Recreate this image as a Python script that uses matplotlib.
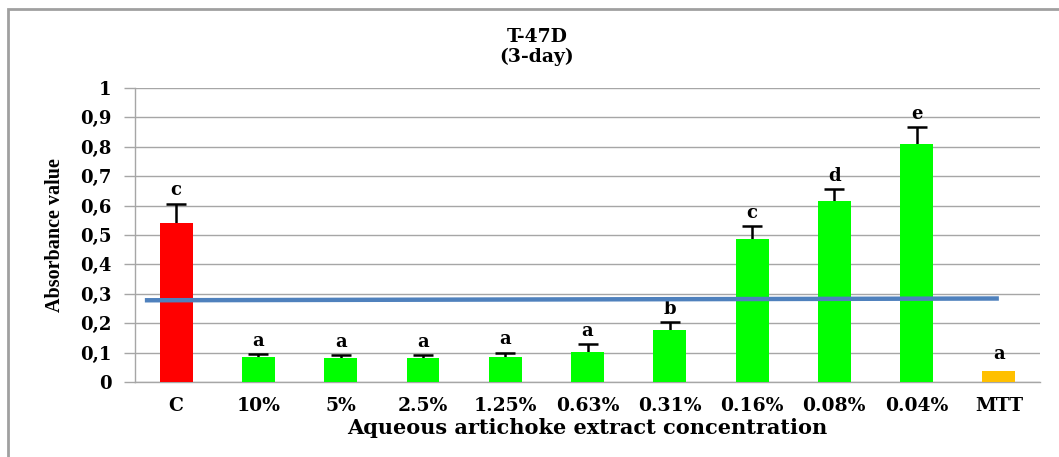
import matplotlib

matplotlib.use("Agg")
import matplotlib.pyplot as plt
from matplotlib.patches import Rectangle

# data
categories = ["C", "10%", "5%", "2.5%", "1.25%", "0.63%", "0.31%", "0.16%", "0.08%", "0.04%", "MTT"]
values = [0.542, 0.084, 0.083, 0.081, 0.084, 0.101, 0.177, 0.485, 0.616, 0.808, 0.036]
errors = [0.065, 0.010, 0.010, 0.011, 0.016, 0.027, 0.028, 0.046, 0.041, 0.060, 0.0]
letters = ["c", "a", "a", "a", "a", "a", "b", "c", "d", "e", "a"]
bar_colors = ["#FF0000"] + ["#00FF00"] * 9 + ["#FFC000"]
# reference line (MTT baseline), drawn across the plot
ref_x = [-0.38, 10.0]
ref_y = [0.278, 0.284]
yticks = [0, 0.1, 0.2, 0.3, 0.4, 0.5, 0.6, 0.7, 0.8, 0.9, 1.0]
ytick_labels = ["0", "0,1", "0,2", "0,3", "0,4", "0,5", "0,6", "0,7", "0,8", "0,9", "1"]

# the source picture is stretched sideways, a wide serif gets closest
plt.rcParams["font.family"] = "DejaVu Serif"
plt.rcParams["font.weight"] = "bold"

GRID = "#A6A6A6"

fig = plt.figure(figsize=(10.59, 4.57), dpi=100)
ax = fig.add_axes([135 / 1059, 75 / 457, 905 / 1059, 294 / 457])

# outer chart-area frame
fig.patches.append(Rectangle((8 / 1059, -0.05), 1.2, (457 - 9) / 457 + 0.05,
                             transform=fig.transFigure, fill=False,
                             edgecolor="#A0A0A0", linewidth=2.0))

xpos = list(range(len(categories)))
# symmetric error bars drawn under the bars -> only the upper "T" shows
has_err = [i for i, e in enumerate(errors) if e > 0]
ax.errorbar([xpos[i] for i in has_err], [values[i] for i in has_err],
            yerr=[errors[i] for i in has_err], fmt="none", ecolor="black",
            elinewidth=1.8, capsize=7, capthick=1.8, zorder=2)
ax.bar(xpos, values, 0.4, color=bar_colors, zorder=3)
for x, v, e, t in zip(xpos, values, errors, letters):
    gap = 0.014 if e > 0 else 0.03
    ax.text(x, v + e + gap, t, ha="center", va="bottom", fontsize=13,
            fontweight="bold")

ax.plot(ref_x, ref_y, color="#4F81BD", linewidth=3.2, zorder=4, solid_capstyle="butt")

ax.set_xlim(-0.5, len(categories) - 0.5)
ax.set_ylim(0, 1)
ax.set_yticks(yticks)
ax.set_yticklabels(ytick_labels, fontsize=13, fontweight="bold")
ax.set_xticks(xpos)
ax.set_xticklabels(categories, fontsize=13.5, fontweight="bold")
ax.tick_params(axis="x", length=0, pad=11)
ax.tick_params(axis="y", length=8, color=GRID, width=1.0, pad=9)
ax.yaxis.grid(True, color=GRID, linewidth=1.0)
ax.set_axisbelow(True)
for side in ("top", "right"):
    ax.spines[side].set_visible(False)
for side in ("left", "bottom"):
    ax.spines[side].set_color(GRID)
    ax.spines[side].set_linewidth(1.0)

ax.set_ylabel("Absorbance value", fontsize=14.5, fontweight="bold", labelpad=11,
              family="Liberation Serif")
ax.set_xlabel("Aqueous artichoke extract concentration", fontsize=15,
              fontweight="bold", labelpad=2)

fig.text(537 / 1059, 1 - 47 / 457, "T-47D\n(3-day)", ha="center", va="center",
         fontsize=13.5, fontweight="bold", linespacing=1.15)

fig.savefig("out.png", dpi=100)
